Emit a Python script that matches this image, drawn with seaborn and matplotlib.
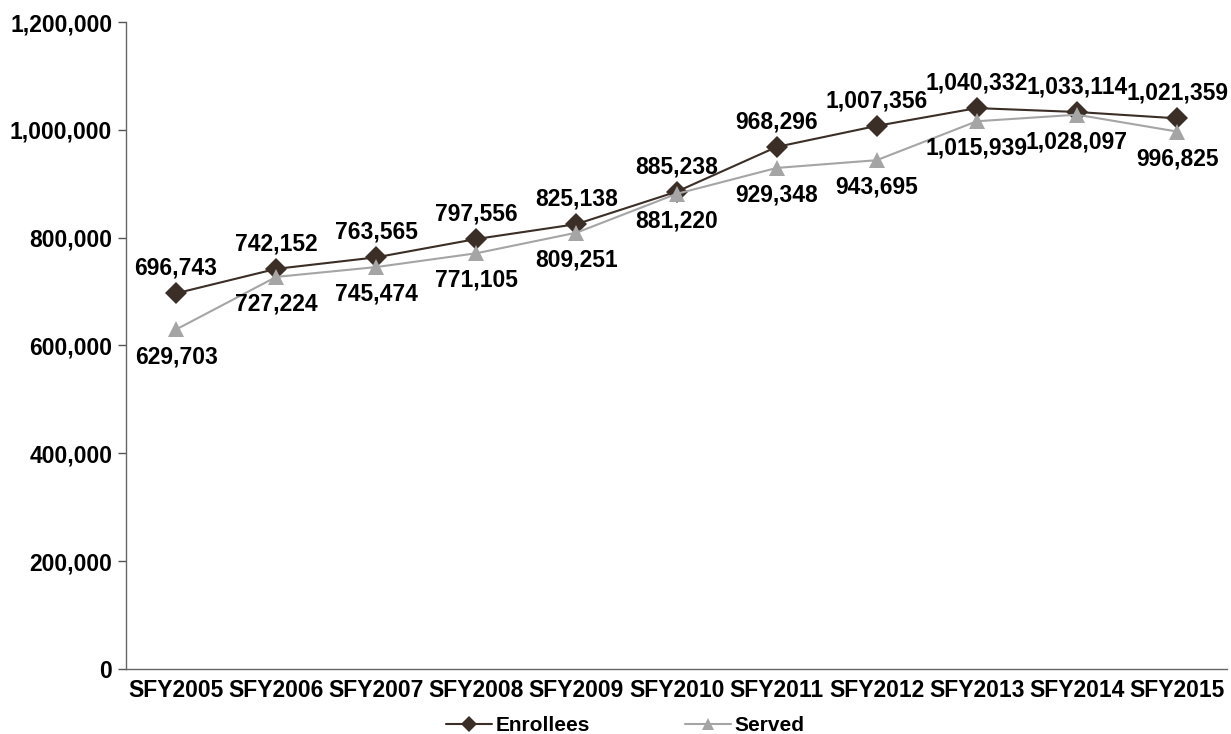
import matplotlib
matplotlib.use("Agg")
import matplotlib.pyplot as plt
from matplotlib.ticker import FuncFormatter, FixedLocator
import seaborn as sns
import pandas as pd

years = ["SFY2005", "SFY2006", "SFY2007", "SFY2008", "SFY2009", "SFY2010",
         "SFY2011", "SFY2012", "SFY2013", "SFY2014", "SFY2015"]
enrollees = [696743, 742152, 763565, 797556, 825138, 885238,
             968296, 1007356, 1040332, 1033114, 1021359]
served = [629703, 727224, 745474, 771105, 809251, 881220,
          929348, 943695, 1015939, 1028097, 996825]

sns.set_theme(style="white")
plt.rcParams["font.family"] = ["Liberation Sans", "DejaVu Sans"]
plt.rcParams["font.weight"] = "bold"
plt.rcParams["text.color"] = "black"
plt.rcParams["xtick.color"] = "black"
plt.rcParams["ytick.color"] = "black"

df = pd.DataFrame({"year": years * 2,
                   "value": enrollees + served,
                   "series": ["Enrollees"] * len(years) + ["Served"] * len(years)})

fig = plt.figure(figsize=(12.31, 7.34), dpi=100)
ax = fig.add_axes([0.1024, 0.0886, 0.8944, 0.8814])

enr_color = "#3b2e26"
srv_color = "#a5a5a5"

sns.lineplot(data=df, x="year", y="value", hue="series", style="series",
             palette={"Enrollees": enr_color, "Served": srv_color},
             markers={"Enrollees": "D", "Served": "^"}, dashes=False,
             markersize=11, linewidth=1.5, markeredgewidth=0, ax=ax,
             sort=False, legend=True)

lab_size = 16.5
# value labels: enrollees above, served below
for i, v in enumerate(enrollees):
    ax.annotate(f"{v:,}", (i, v), xytext=(0, 18), textcoords="offset points",
                ha="center", va="center", fontsize=lab_size, fontweight="bold",
                color="black")
for i, v in enumerate(served):
    ax.annotate(f"{v:,}", (i, v), xytext=(0, -19.5), textcoords="offset points",
                ha="center", va="center", fontsize=lab_size, fontweight="bold",
                color="black")

ax.set_xlim(-0.5, len(years) - 0.5)
ax.set_ylim(0, 1200000)
ax.set_yticks(range(0, 1200001, 200000))
ax.yaxis.set_major_formatter(FuncFormatter(lambda v, p: f"{int(v):,}"))
ax.set_xlabel("")
ax.set_ylabel("")

# category labels centred, tick marks on the boundaries
ax.xaxis.set_major_locator(FixedLocator([i - 0.5 for i in range(len(years) + 1)]))
ax.xaxis.set_major_formatter(FuncFormatter(lambda v, p: ""))
ax.xaxis.set_minor_locator(FixedLocator(list(range(len(years)))))
ax.set_xticklabels(years, minor=True)
ax.tick_params(axis="x", which="major", direction="inout", length=10, width=1,
               color="#555555")
ax.tick_params(axis="x", which="minor", length=0, pad=7, labelsize=lab_size)
ax.tick_params(axis="y", which="major", direction="out", length=6, width=1,
               color="#555555", labelsize=lab_size, pad=4, left=True)
for lab in ax.get_xticklabels(minor=True) + ax.get_yticklabels():
    lab.set_fontweight("bold")

for side in ["top", "right"]:
    ax.spines[side].set_visible(False)
for side in ["left", "bottom"]:
    ax.spines[side].set_color("#666666")
    ax.spines[side].set_linewidth(1)

ax.grid(False)
handles, labels = ax.get_legend_handles_labels()
ax.get_legend().remove()
for h in handles:
    h.set_markersize(8)
fig.legend(handles, labels, loc="center", bbox_to_anchor=(0.508, 0.011),
           ncol=2, frameon=False, columnspacing=4.6,
           handlelength=2.2, handletextpad=0.15,
           prop={"weight": "bold", "size": 15})

fig.savefig("out.png", dpi=100)
